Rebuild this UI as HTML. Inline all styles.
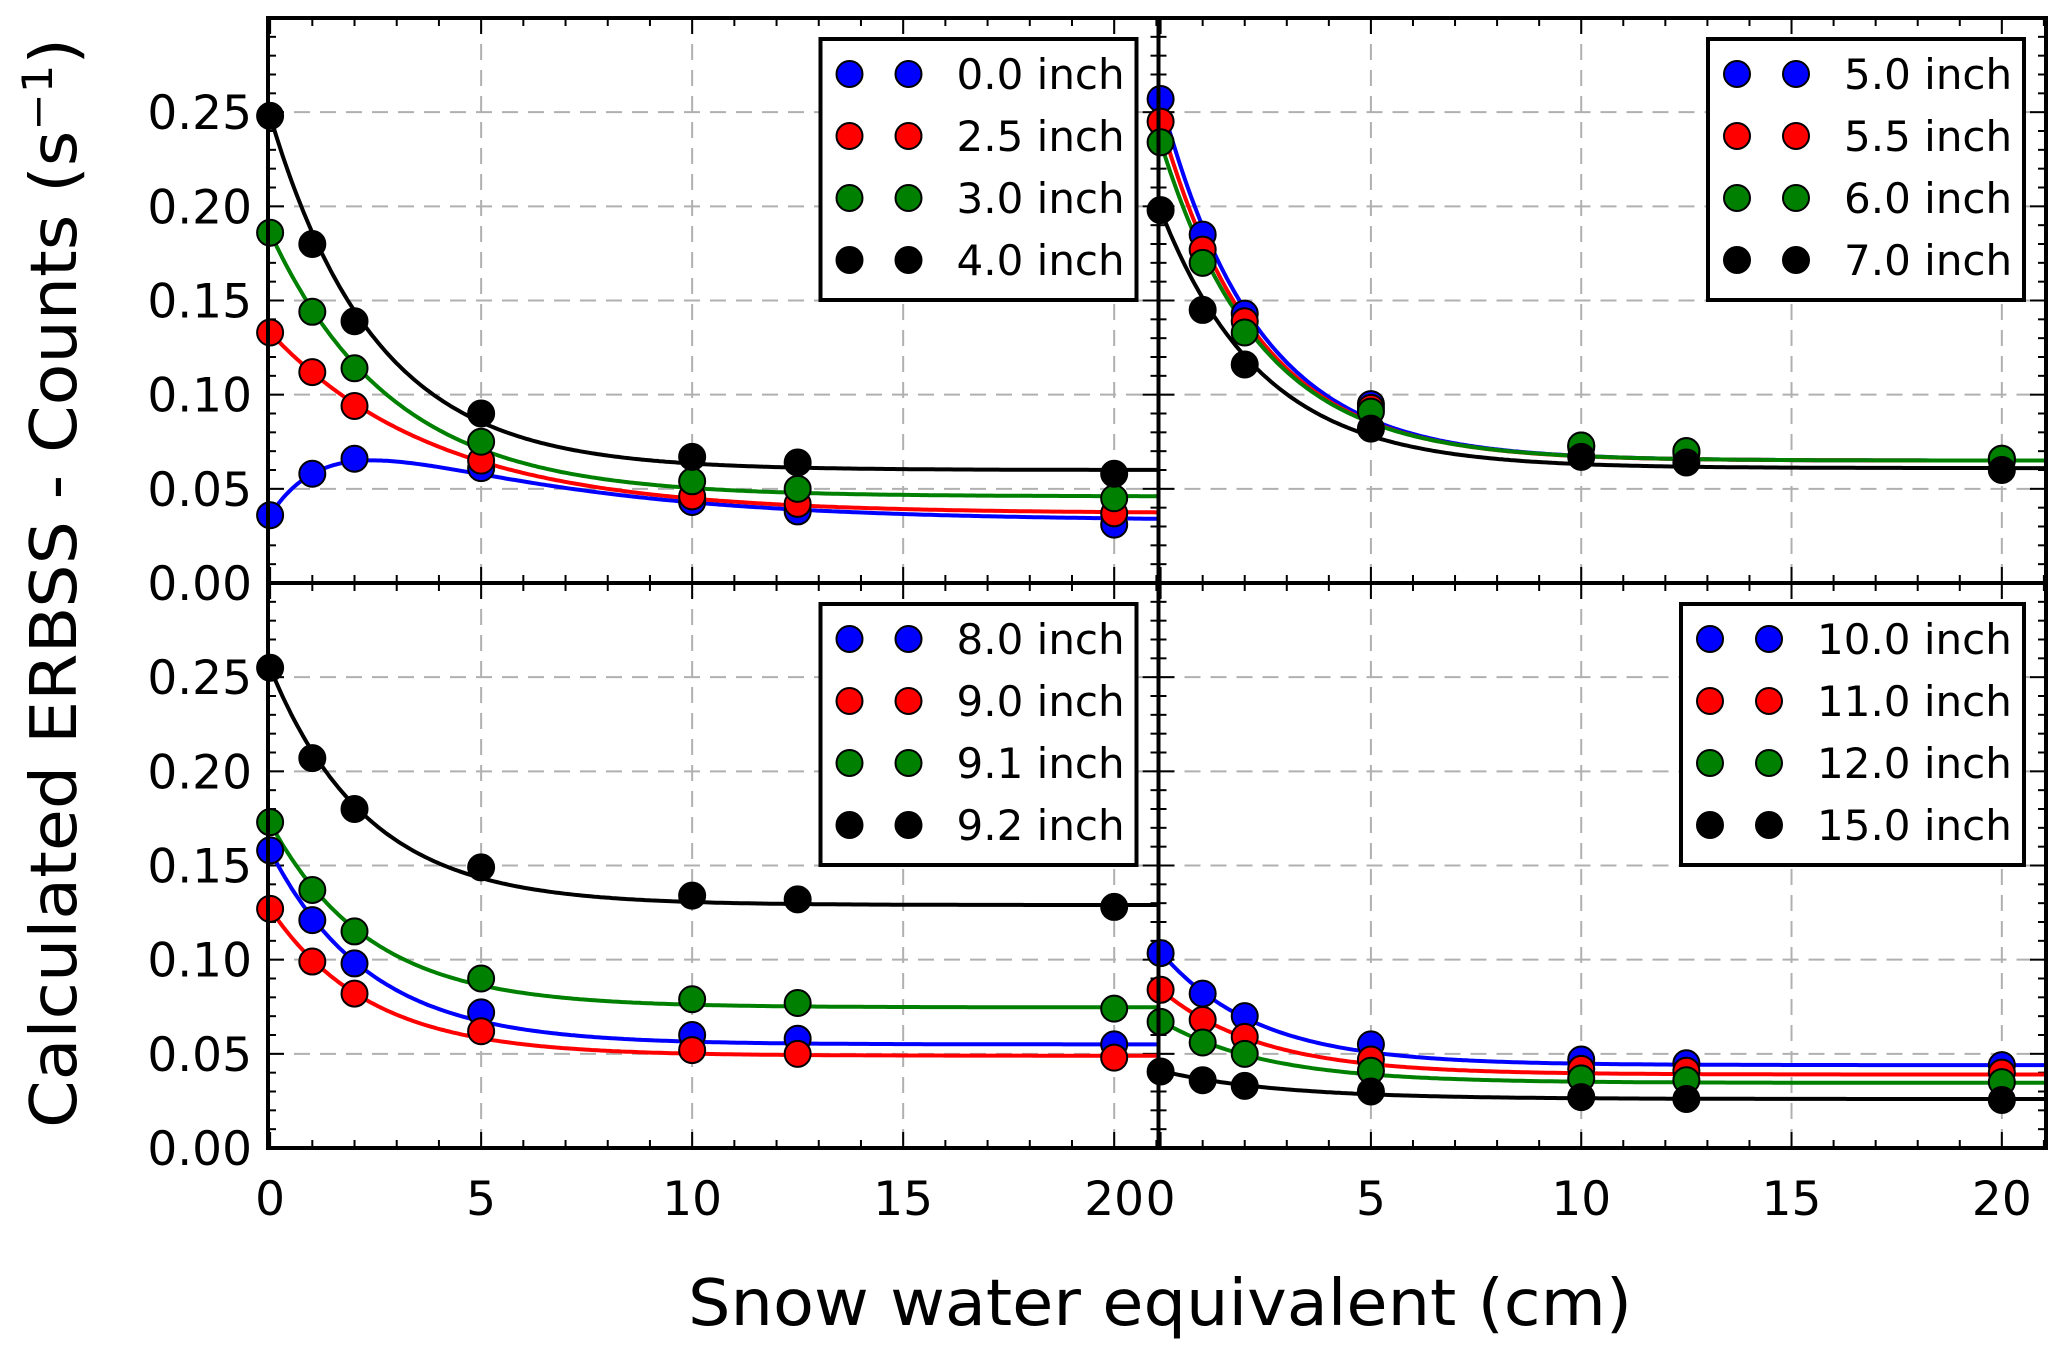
<!DOCTYPE html>
<html><head><meta charset="utf-8"><style>
html,body{margin:0;padding:0;background:#fff;}
svg{display:block;font-family:"DejaVu Sans","Liberation Sans",sans-serif;}
</style></head><body>
<svg id="chart" width="2067" height="1349" viewBox="0 0 2067 1349" xmlns="http://www.w3.org/2000/svg">
<text x="0" y="0" transform="translate(76,583) rotate(-90)" text-anchor="middle" font-size="64" textLength="1090" lengthAdjust="spacingAndGlyphs">Calculated ERBSS - Counts (s<tspan baseline-shift="super" font-size="42">−1</tspan>)</text>
<text x="1160" y="1325" text-anchor="middle" font-size="64" textLength="944" lengthAdjust="spacingAndGlyphs">Snow water equivalent (cm)</text>
</svg>
<script>
// ---- data ----
const xValues = [0, 1, 2, 5, 10, 12.5, 20];
const colors = ['#0000ff', '#ff0000', '#008000', '#000000'];
const yTicks = [0.00, 0.05, 0.10, 0.15, 0.20, 0.25];
const yTickLabels = ['0.00', '0.05', '0.10', '0.15', '0.20', '0.25'];
const xTicks = [0, 5, 10, 15, 20];
const xTickLabels = ['0', '5', '10', '15', '20'];

const labelsTL = ['0.0 inch', '2.5 inch', '3.0 inch', '4.0 inch'];
const labelsTR = ['5.0 inch', '5.5 inch', '6.0 inch', '7.0 inch'];
const labelsBL = ['8.0 inch', '9.0 inch', '9.1 inch', '9.2 inch'];
const labelsBR = ['10.0 inch', '11.0 inch', '12.0 inch', '15.0 inch'];

const pointsTL = [
  [0.036, 0.058, 0.066, 0.061, 0.043, 0.038, 0.031],
  [0.133, 0.112, 0.094, 0.065, 0.046, 0.042, 0.037],
  [0.186, 0.144, 0.114, 0.075, 0.054, 0.050, 0.045],
  [0.248, 0.180, 0.139, 0.090, 0.067, 0.064, 0.058]
];
const pointsTR = [
  [0.257, 0.185, 0.143, 0.095, 0.073, 0.070, 0.066],
  [0.245, 0.177, 0.139, 0.093, 0.072, 0.069, 0.065],
  [0.234, 0.170, 0.133, 0.091, 0.073, 0.070, 0.066],
  [0.198, 0.145, 0.116, 0.082, 0.067, 0.064, 0.060]
];
const pointsBL = [
  [0.158, 0.121, 0.098, 0.072, 0.060, 0.058, 0.055],
  [0.127, 0.099, 0.082, 0.062, 0.052, 0.050, 0.048],
  [0.173, 0.137, 0.115, 0.090, 0.079, 0.077, 0.074],
  [0.255, 0.207, 0.180, 0.149, 0.134, 0.132, 0.128]
];
const pointsBR = [
  [0.1035, 0.082, 0.070, 0.055, 0.047, 0.045, 0.044],
  [0.084, 0.068, 0.059, 0.047, 0.042, 0.041, 0.040],
  [0.067, 0.056, 0.050, 0.041, 0.037, 0.036, 0.035],
  [0.0406, 0.036, 0.033, 0.030, 0.027, 0.026, 0.0255]
];
// fit curves: a + b*exp(-x/c) - d*exp(-x/e)
const fitA_TL = [0.033, 0.037, 0.046, 0.060];
const fitB_TL = [0.073, 0.096, 0.140, 0.188];
const fitC_TL = [5.0, 4.0, 2.9, 2.5];
const fitD_TL = [0.070, 0, 0, 0];
const fitE_TL = [1.43, 1, 1, 1];
const fitA_TR = [0.065, 0.065, 0.065, 0.061];
const fitB_TR = [0.192, 0.180, 0.169, 0.137];
const fitC_TR = [2.3, 2.3, 2.35, 2.4];
const fitA_BL = [0.055, 0.049, 0.0747, 0.129];
const fitB_BL = [0.103, 0.078, 0.098, 0.126];
const fitC_BL = [2.35, 2.35, 2.35, 2.3];
const fitA_BR = [0.044, 0.039, 0.0346, 0.026];
const fitB_BR = [0.060, 0.045, 0.033, 0.015];
const fitC_BR = [2.3, 2.4, 2.5, 2.8];

// ---- layout ----
const NS = 'http://www.w3.org/2000/svg';
const svg = document.getElementById('chart');
const X0 = 268, XM = 1158.5, X1 = 2046, Y0 = 18, YM = 583, Y1 = 1148;
const xMin = -0.05, xMax = 21.05, yMax = 0.30;

function mk(tag, attrs, parent) {
  const e = document.createElementNS(NS, tag);
  for (const k in attrs) e.setAttribute(k, attrs[k]);
  (parent || svg).appendChild(e);
  return e;
}

function panel(name, left, right, top, bottom, pts, fa, fb, fc, fd, fe, labels, showY, showX, legW) {
  const g = mk('g', {});
  
  
  const sx = v => left + (v - xMin) / (xMax - xMin) * (right - left);
  const sy = v => bottom - v / yMax * (bottom - top);
  // grid
  for (const t of xTicks) {
    if (t === 0) continue;
    const l = mk('line', {x1: sx(t), x2: sx(t), y1: top, y2: bottom, stroke: '#b0b0b0', 'stroke-width': 2, 'stroke-dasharray': '16,10'}, g);
    
    
  }
  for (const t of yTicks) {
    if (t === 0) continue;
    const l = mk('line', {x1: left, x2: right, y1: sy(t), y2: sy(t), stroke: '#b0b0b0', 'stroke-width': 2, 'stroke-dasharray': '16,10'}, g);
    
    
  }
  // minor/major ticks
  for (let v = 0; v <= 21; v++) {
    const L = (v % 5 === 0) ? 16 : 8;
    mk('line', {x1: sx(v), x2: sx(v), y1: bottom, y2: bottom - L, stroke: '#000', 'stroke-width': 2}, g);
    mk('line', {x1: sx(v), x2: sx(v), y1: top, y2: top + L, stroke: '#000', 'stroke-width': 2}, g);
  }
  for (let i = 0; i <= 30; i++) {
    const v = i / 100;
    const L = (i % 5 === 0) ? 16 : 8;
    mk('line', {x1: left, x2: left + L, y1: sy(v), y2: sy(v), stroke: '#000', 'stroke-width': 2}, g);
    mk('line', {x1: right, x2: right - L, y1: sy(v), y2: sy(v), stroke: '#000', 'stroke-width': 2}, g);
  }
  // curves
  for (let s = 0; s < 4; s++) {
    let d = '';
    for (let i = 0; i <= 300; i++) {
      const x = xMin + (xMax - xMin) * i / 300;
      const y = fa[s] + fb[s] * Math.exp(-x / fc[s]) - (fd ? fd[s] * Math.exp(-x / fe[s]) : 0);
      d += (i ? 'L' : 'M') + sx(Math.max(x, xMin)).toFixed(1) + ',' + sy(y).toFixed(1);
    }
    const p = mk('path', {d: d, fill: 'none', stroke: colors[s], 'stroke-width': 4}, g);
    
    
  }
  // points
  for (let s = 0; s < 4; s++) {
    for (let i = 0; i < xValues.length; i++) {
      const c = mk('circle', {cx: sx(xValues[i]), cy: sy(pts[s][i]), r: 13, fill: colors[s], stroke: '#000', 'stroke-width': 2}, g);
      
      
    }
  }
  // frame
  const fr = mk('rect', {x: left, y: top, width: right - left, height: bottom - top, fill: 'none', stroke: '#000', 'stroke-width': 4}, g);
  
  
  // legend
  const lx = right - 22 - legW, ly = top + 21;
  const lg = mk('g', {}, g);
  
  
  mk('rect', {x: lx, y: ly, width: legW, height: 261, fill: '#fff', stroke: '#000', 'stroke-width': 4}, lg);
  for (let s = 0; s < 4; s++) {
    const ry = ly + 35 + s * 62;
    const e = mk('g', {}, lg);
    
    
    mk('circle', {cx: lx + 29, cy: ry, r: 13, fill: colors[s], stroke: '#000', 'stroke-width': 2}, e);
    mk('circle', {cx: lx + 88, cy: ry, r: 13, fill: colors[s], stroke: '#000', 'stroke-width': 2}, e);
    const t = mk('text', {x: lx + 136, y: ry + 15, 'font-size': 42}, e);
    t.textContent = labels[s];
  }
  // tick labels
  if (showY) {
    for (let i = 0; i < yTicks.length; i++) {
      const t = mk('text', {x: 252, y: sy(yTicks[i]) + 17, 'font-size': 47, 'text-anchor': 'end'});
      
      
      t.textContent = yTickLabels[i];
    }
  }
  if (showX) {
    for (let i = 0; i < xTicks.length; i++) {
      const t = mk('text', {x: sx(xTicks[i]), y: 1215, 'font-size': 47, 'text-anchor': 'middle'});
      
      
      t.textContent = xTickLabels[i];
    }
  }
}

panel('panel-top-left', X0, XM, Y0, YM, pointsTL, fitA_TL, fitB_TL, fitC_TL, fitD_TL, fitE_TL, labelsTL, true, false, 316);
panel('panel-top-right', XM, X1, Y0, YM, pointsTR, fitA_TR, fitB_TR, fitC_TR, null, null, labelsTR, false, false, 316);
panel('panel-bottom-left', X0, XM, YM, Y1, pointsBL, fitA_BL, fitB_BL, fitC_BL, null, null, labelsBL, true, true, 316);
panel('panel-bottom-right', XM, X1, YM, Y1, pointsBR, fitA_BR, fitB_BR, fitC_BR, null, null, labelsBR, false, true, 343);
</script>
</body></html>
